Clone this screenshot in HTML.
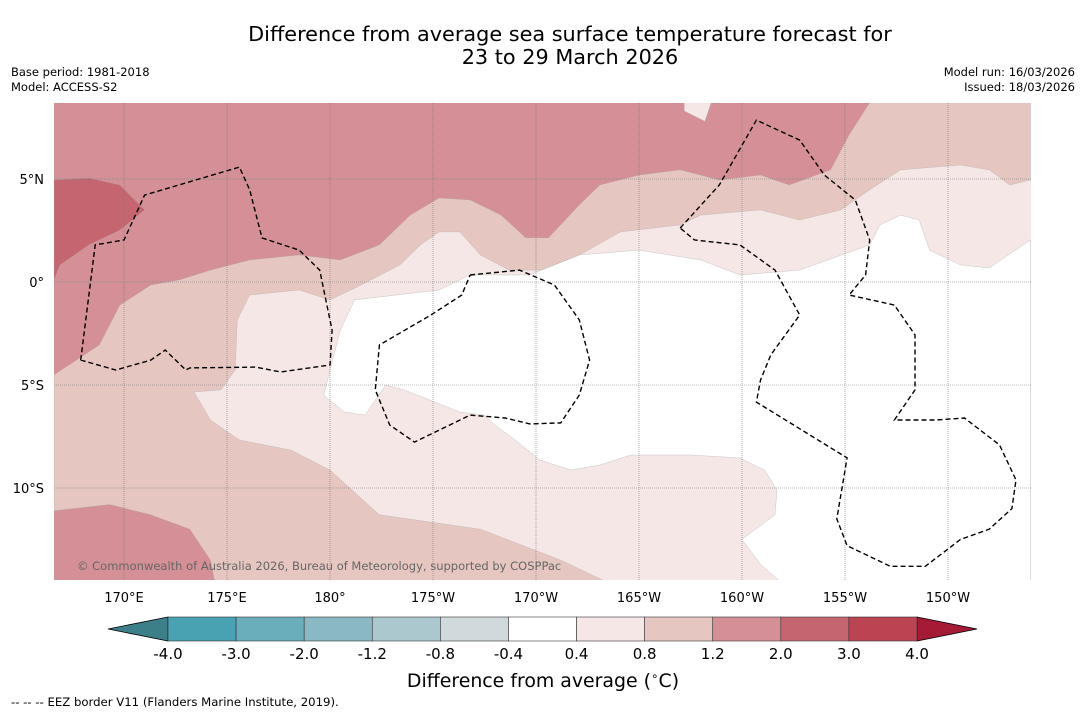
<!DOCTYPE html>
<html><head><meta charset="utf-8">
<style>
html,body{margin:0;padding:0;background:#fff;}
body{width:1085px;height:713px;overflow:hidden;font-family:"DejaVu Sans","Liberation Sans",sans-serif;}
</style></head>
<body>
<svg id="chart" width="1085" height="713" xmlns="http://www.w3.org/2000/svg" font-family="DejaVu Sans, Liberation Sans, sans-serif"></svg>
<script>
// ---- data ----
const lonTicks = [170,175,180,185,190,195,200,205,210];
const lonLabels = ["170°E","175°E","180°","175°W","170°W","165°W","160°W","155°W","150°W"];
const latTicks = [5,0,-5,-10];
const latLabels = ["5°N","0°","5°S","10°S"];
const cbLevels = ["-4.0","-3.0","-2.0","-1.2","-0.8","-0.4","0.4","0.8","1.2","2.0","3.0","4.0"];
const cbColors = ["#48a2b1","#6aaebb","#8ab9c4","#aac8cd","#d0d9db","#ffffff","#f4e7e5","#e6c6c1","#d49096","#c5656f","#bb4453"];
const cbUnder = "#3d7f88";
const cbOver = "#a51a34";
// contour regions (lon east 0-360, lat)
const regionWhite = [[179.7,-5.49],[180.5,-2.33],[181.2,-0.87],[185.3,-0.39],[186.8,0.34],[189.7,0.34],[192.1,1.31],[195.0,1.55],[198.0,1.07],[199.9,0.34],[202.8,0.58],[206.2,1.80],[206.7,2.77],[207.7,3.25],[208.6,3.01],[209.1,1.55],[210.6,0.83],[212.0,0.68],[214.0,2.04],[214.0,-14.5],[201.8,-14.5],[200.9,-13.7],[200.0,-12.5],[201.6,-11.3],[201.7,-10.1],[201.1,-9.13],[199.9,-8.54],[197.5,-8.40],[194.6,-8.40],[193.1,-8.88],[191.7,-9.13],[190.2,-8.64],[189.0,-7.67],[188.0,-6.94],[187.5,-6.46],[186.3,-6.31],[183.6,-5.24],[182.7,-5.0],[181.7,-6.46],[180.7,-6.31]];
const region08 = [[166.6,-14.5],[193.3,-14.5],[191.2,-13.5],[187.3,-12.0],[182.4,-11.3],[180.0,-9.13],[178.1,-8.16],[175.6,-7.67],[174.2,-6.70],[173.4,-5.34],[174.7,-5.24],[175.4,-4.27],[175.5,-1.84],[176.1,-0.63],[178.5,-0.39],[180.0,-0.87],[181.5,-0.15],[183.4,0.83],[184.4,1.80],[185.3,2.43],[186.3,2.43],[187.3,1.31],[188.7,0.58],[190.2,0.58],[192.1,1.31],[194.1,2.43],[197.0,2.77],[198.0,3.25],[200.9,3.50],[202.8,3.01],[204.8,3.50],[206.2,4.47],[207.7,5.44],[210.6,5.68],[212.0,5.44],[213.0,4.71],[214.0,4.95],[214.0,8.7],[166.6,8.7]];
const region12 = [[166.6,8.7],[206.2,8.7],[205.2,7.14],[204.3,5.44],[202.3,4.71],[200.9,5.19],[198.9,4.95],[197.0,5.44],[195.0,5.19],[193.1,4.71],[192.1,3.74],[190.6,2.14],[189.5,2.14],[188.3,3.25],[186.8,3.98],[185.3,4.08],[183.9,3.25],[182.4,1.80],[180.5,1.07],[178.5,1.31],[176.1,1.07],[174.2,0.58],[172.7,0.10],[171.3,-0.15],[169.8,-1.12],[168.8,-3.06],[166.6,-4.51]];
const region12b = [[166.6,-11.1],[169.3,-10.8],[171.3,-11.3],[173.2,-12.0],[174.2,-13.5],[174.4,-14.5],[166.6,-14.5]];
const region20 = [[166.6,4.95],[168.3,5.05],[169.8,4.71],[171.0,3.50],[169.8,2.52],[168.3,1.80],[166.9,0.83],[166.6,0.10]];
const regionLightPatch = [[197.2,8.7],[198.5,8.7],[198.2,7.8],[197.2,8.3]];
// EEZ borders
const eezA = [[167.9,-3.79],[168.6,1.80],[170.0,2.04],[171.0,4.22],[175.6,5.58],[176.1,4.47],[176.7,2.14],[178.5,1.55],[179.5,0.58],[179.9,-1.36],[180.1,-2.33],[180.0,-4.03],[177.6,-4.37],[176.4,-4.13],[173.2,-4.17],[173.0,-4.27],[172.0,-3.30],[171.3,-3.79],[169.6,-4.27],[167.9,-3.79]];
const eezB = [[186.8,0.34],[189.2,0.58],[190.9,-0.15],[192.1,-1.84],[192.6,-3.79],[192.1,-5.49],[191.2,-6.84],[189.7,-6.89],[188.5,-6.60],[186.8,-6.46],[184.1,-7.77],[182.9,-6.94],[182.2,-5.24],[182.4,-3.06],[184.9,-1.60],[186.4,-0.63],[186.8,0.34]];
const eezC = [[197.0,2.62],[198.9,4.71],[200.7,7.86],[202.8,6.89],[204.0,5.19],[205.5,3.98],[206.2,2.04],[206.0,0.34],[205.2,-0.63],[207.4,-1.12],[208.4,-2.57],[208.4,-5.24],[207.4,-6.70],[209.4,-6.70],[210.8,-6.60],[212.5,-7.91],[213.3,-9.61],[213.1,-11.0],[212.0,-12.0],[210.6,-12.5],[208.9,-13.8],[207.2,-13.8],[205.1,-12.8],[204.6,-11.5],[205.1,-8.54],[200.7,-5.83],[200.9,-4.76],[201.4,-3.54],[202.8,-1.60],[201.6,0.58],[199.9,1.80],[197.7,2.04],[197.0,2.62]];

// ---- axes ----
const M = {x0:54, x1:1031, y0:103, y1:580};
const PX = 20.6;
const xOf = lon => 124 + (lon-170)*PX;
const yOf = lat => 282 - lat*PX;
const NS = "http://www.w3.org/2000/svg";
const svg = document.getElementById('chart');
function mk(tag, attrs, parent){ const e=document.createElementNS(NS,tag); for(const k in attrs) e.setAttribute(k,attrs[k]); (parent||svg).appendChild(e); return e; }
function txt(s, attrs, parent){ const e=mk('text',attrs,parent); e.textContent=s; return e; }
const pts = arr => arr.map(p=>xOf(p[0]).toFixed(1)+','+yOf(p[1]).toFixed(1)).join(' ');

// titles
let t;
t = txt("Difference from average sea surface temperature forecast for",{x:570,y:41,'text-anchor':'middle','font-size':20.8,fill:'#000'});


t = txt("23 to 29 March 2026",{x:570,y:64,'text-anchor':'middle','font-size':20.8,fill:'#000'});


t = txt("Base period: 1981-2018",{x:11,y:76,'font-size':11.5});


t = txt("Model: ACCESS-S2",{x:11,y:91,'font-size':11.5});


t = txt("Model run: 16/03/2026",{x:1075,y:76,'font-size':11.5,'text-anchor':'end'});


t = txt("Issued: 18/03/2026",{x:1075,y:91,'font-size':11.5,'text-anchor':'end'});



// map
const clip = mk('clipPath',{id:'mapclip'});
mk('rect',{x:M.x0,y:M.y0,width:M.x1-M.x0,height:M.y1-M.y0},clip);
const g = mk('g',{'clip-path':'url(#mapclip)'});


let r = mk('rect',{x:M.x0,y:M.y0,width:M.x1-M.x0,height:M.y1-M.y0,fill:cbColors[6]},g);


const layers = [[regionWhite,cbColors[5],'contour-white'],[region08,cbColors[7],'contour-0.8-1.2'],[region12,cbColors[8],'contour-1.2-2.0'],[region12b,cbColors[8],'contour-1.2-2.0-south'],[region20,cbColors[9],'contour-2.0-3.0'],[regionLightPatch,cbColors[6],'contour-0.4-patch']];
layers.forEach(L=>{
  const p = mk('polygon',{points:pts(L[0]),fill:L[1],stroke:'#aaa','stroke-width':0.3},g);
  
  
});
// gridlines
lonTicks.forEach(lon=>{
  const l = mk('line',{x1:xOf(lon),x2:xOf(lon),y1:M.y0,y2:M.y1,stroke:'#777','stroke-width':0.6,'stroke-dasharray':'1,1'},g);
  
  
});
latTicks.forEach(lat=>{
  const l = mk('line',{x1:M.x0,x2:M.x1,y1:yOf(lat),y2:yOf(lat),stroke:'#777','stroke-width':0.6,'stroke-dasharray':'1,1'},g);
  
  
});
// EEZ
[[eezA,'eez-border-tuvalu'],[eezB,'eez-border-phoenix'],[eezC,'eez-border-line-islands']].forEach(E=>{
  const p = mk('polyline',{points:pts(E[0]),fill:'none',stroke:'#000','stroke-width':1.4,'stroke-dasharray':'5,3'},g);
  
  
});
t = txt("© Commonwealth of Australia 2026, Bureau of Meteorology, supported by COSPPac",{x:77,y:570,'font-size':11.5,fill:'#666'},g);



// tick labels
lonTicks.forEach((lon,i)=>{
  const e = txt(lonLabels[i],{x:xOf(lon),y:602,'text-anchor':'middle','font-size':13});
  
  
});
latTicks.forEach((lat,i)=>{
  const e = txt(latLabels[i],{x:44,y:yOf(lat)+5,'text-anchor':'end','font-size':13});
  
  
});

// colorbar
const cb = {x0:168,x1:917,y0:617,y1:641,tri:60};
const bw = (cb.x1-cb.x0)/cbColors.length;
const cbg = mk('g',{});


let tri = mk('polygon',{points:`${cb.x0},${cb.y0} ${cb.x0-cb.tri},${(cb.y0+cb.y1)/2} ${cb.x0},${cb.y1}`,fill:cbUnder,stroke:'#000','stroke-width':0.8},cbg);


tri = mk('polygon',{points:`${cb.x1},${cb.y0} ${cb.x1+cb.tri},${(cb.y0+cb.y1)/2} ${cb.x1},${cb.y1}`,fill:cbOver,stroke:'#000','stroke-width':0.8},cbg);


cbColors.forEach((c,i)=>{
  const b = mk('rect',{x:cb.x0+i*bw,y:cb.y0,width:bw,height:cb.y1-cb.y0,fill:c,stroke:'#333','stroke-width':0.6},cbg);
  
  
});
cbLevels.forEach((s,i)=>{
  const e = txt(s,{x:cb.x0+i*bw,y:659,'text-anchor':'middle','font-size':15},cbg);
  
  
});
t = txt("",{x:543,y:687,'text-anchor':'middle','font-size':18.9});
t.innerHTML = 'Difference from average (<tspan baseline-shift="super" font-size="12">∘</tspan>C)';


t = txt("--  --  -- EEZ border V11 (Flanders Marine Institute, 2019).",{x:11,y:706,'font-size':11.7});


</script>
</body></html>
